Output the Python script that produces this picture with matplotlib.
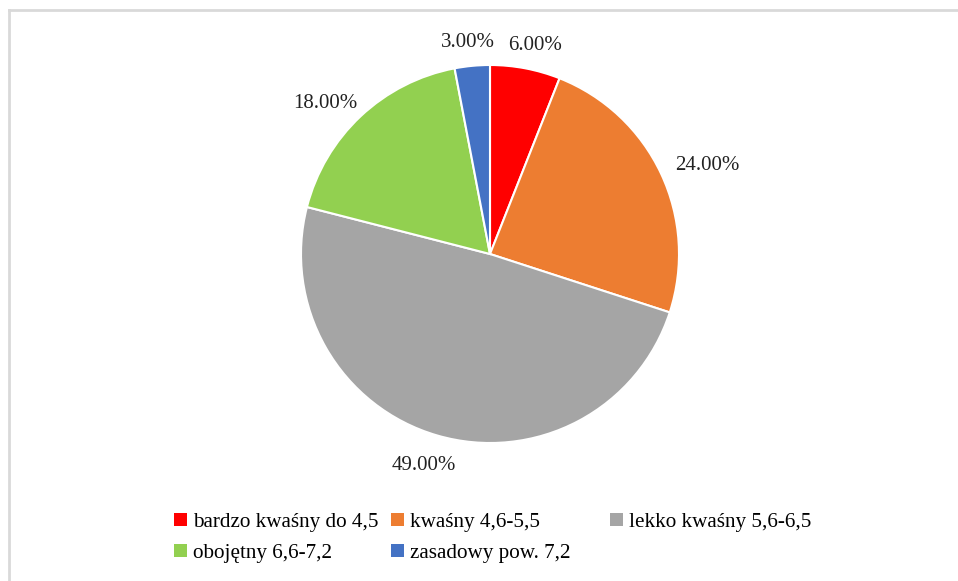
import numpy as np
import matplotlib.pyplot as plt
from matplotlib.lines import Line2D
from matplotlib.patches import Patch

plt.rcParams['font.family'] = ['Liberation Serif', 'DejaVu Serif']

categories = ['bardzo kwaśny do 4,5', 'kwaśny 4,6-5,5', 'lekko kwaśny 5,6-6,5',
              'obojętny 6,6-7,2', 'zasadowy pow. 7,2']
shares = [6.0, 24.0, 49.0, 18.0, 3.0]
colors = ['#FF0000', '#ED7D31', '#A5A5A5', '#92D050', '#4472C4']
# label placement: radial distance and angle nudge (deg) from slice middle
label_dist = [1.14, 1.245, 1.16, 1.19, 1.14]
label_turn = [-1.3, -2.4, -1.3, 3.8, 0.5]

W, H = 958, 581
fig = plt.figure(figsize=(W / 100, H / 100), dpi=100)

# pie area: centre (490, 254) px, radius 189 px
r = 189
cx, cy = 490, 254
half = 1.3 * r
ax = fig.add_axes([(cx - half) / W, (H - cy - half) / H, 2 * half / W, 2 * half / H])

wedges, texts, autotexts = ax.pie(shares, colors=colors, startangle=90, counterclock=False,
                                  radius=1.0, autopct='%.2f%%', pctdistance=1.15,
                                  wedgeprops=dict(edgecolor='white', linewidth=1.5),
                                  textprops=dict(fontsize=15, color='#222222'))
ax.set_xlim(-1.3, 1.3)
ax.set_ylim(-1.3, 1.3)
ax.set_aspect('equal')
ax.axis('off')

# move labels outside like Excel best-fit
for w, t, d, a in zip(wedges, autotexts, label_dist, label_turn):
    ang = np.deg2rad((w.theta1 + w.theta2) / 2 + a)
    t.set_position((d * np.cos(ang), d * np.sin(ang)))
    t.set_va('center_baseline')

# chart frame (top and left edges visible)
fig.add_artist(Line2D([9 / W, 1], [1 - 10 / H, 1 - 10 / H], color='#d9d9d9', lw=2))
fig.add_artist(Line2D([9 / W, 9 / W], [0, 1 - 10 / H], color='#d9d9d9', lw=2))

# legend laid out row by row like Excel, three columns
col_x = [174, 391, 610]
cols = [[0, 3], [1, 4], [2]]
for x, idx in zip(col_x, cols):
    handles = [Patch(facecolor=colors[i], edgecolor='none', label=categories[i]) for i in idx]
    fig.legend(handles=handles, loc='upper left', bbox_to_anchor=(x / W, 1 - 513 / H),
               frameon=False, fontsize=15.2, handlelength=0.6, handleheight=0.6,
               handletextpad=0.3, labelspacing=0.55, borderpad=0, borderaxespad=0)

fig.savefig('out.png', dpi=100)
